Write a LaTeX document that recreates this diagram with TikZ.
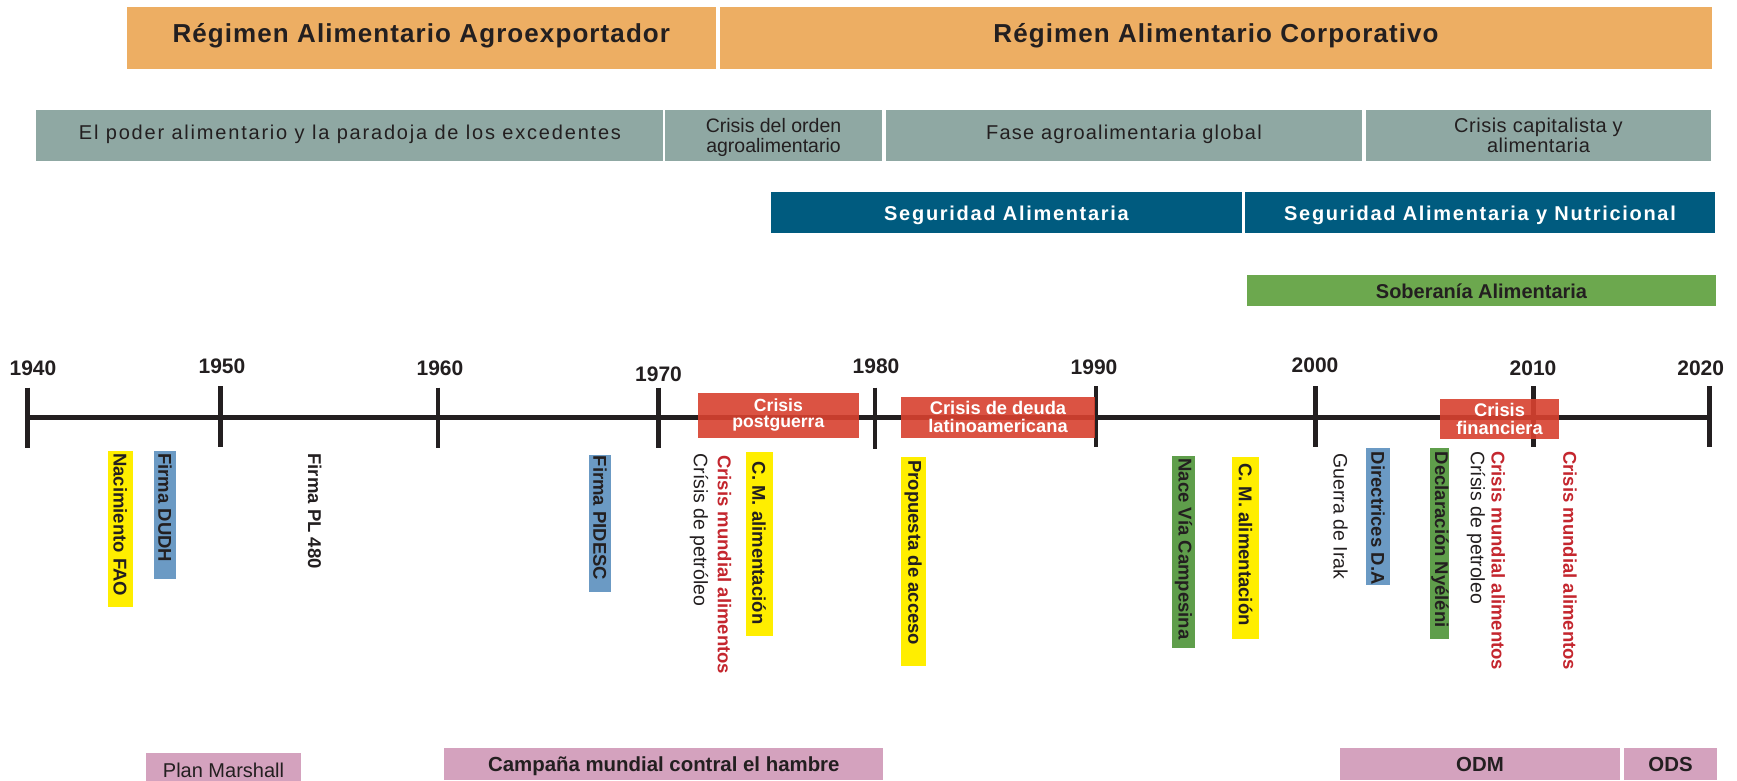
\documentclass[tikz,border=0pt]{standalone}
\usepackage{fontspec}
\setmainfont{Liberation Sans}
\newcommand\fsz[1]{\fontsize{#1}{#1}\selectfont}
\newcommand\fszl[2]{\fontsize{#1}{#2}\selectfont}
\definecolor{orangeband}{HTML}{EDAE63}
\definecolor{greyband}{HTML}{8FA8A3}
\definecolor{blueband}{HTML}{005B7F}
\definecolor{greenband}{HTML}{6CA84E}
\definecolor{yellowbox}{HTML}{FFEE00}
\definecolor{lightblue}{HTML}{6B9AC4}
\definecolor{vgreen}{HTML}{5F9E4B}
\definecolor{redbox}{HTML}{D8412F}
\definecolor{redtext}{HTML}{C4262E}
\definecolor{pinkbox}{HTML}{D4A2BE}
\definecolor{inkdark}{HTML}{231F20}
\begin{document}
\begin{tikzpicture}[x=1pt,y=-1pt,
  btext/.style={inner sep=0, anchor=base, align=center, text=inkdark},
  year/.style={inner sep=0, anchor=base, text=inkdark, font=\fsz{21}\bfseries},
  tick/.style={line width=4.5pt, inkdark},
  axisline/.style={line width=5pt, inkdark},
  crisisbox/.style={fill=redbox, fill opacity=0.9},
  crisistext/.style={inner sep=0, anchor=base, align=center, text=white},
  vlab/.style={rotate=-90, anchor=west, inner sep=0, text=inkdark, font=\fsz{18.5}\bfseries},
  vreg/.style={vlab, font=\fsz{19.5}},
  vred/.style={vlab, text=redtext},
]
\fill[white] (0,0) rectangle (1737,781);
\useasboundingbox (0,0) rectangle (1737,781);

% ---- food regimes ----
\fill[orangeband] (126.5,7.3) rectangle (716,69);
\fill[orangeband] (720,7.3) rectangle (1712,69);
\node[btext, font=\fsz{26}\bfseries\addfontfeatures{LetterSpace=4.2}] (rag) at (421.3,42.7) {Régimen Alimentario Agroexportador};
\node[btext, font=\fsz{26}\bfseries\addfontfeatures{LetterSpace=4.2}] (rac) at (1216,42.7) {Régimen Alimentario Corporativo};

% ---- phases (two-line labels are placed by their last baseline) ----
\fill[greyband] (35.5,110) rectangle (663,161);
\fill[greyband] (665,110) rectangle (882,161);
\fill[greyband] (886,110) rectangle (1362,161);
\fill[greyband] (1366,110) rectangle (1711,161);
\node[btext, font=\fsz{20}\addfontfeatures{LetterSpace=9}] (ph1) at (350,139.3) {El poder alimentario y la paradoja de los excedentes};
\node[btext, font=\fszl{19.5}{20}] (ph2) at (773.5,152.3) {Crisis del orden\\agroalimentario};
\node[btext, font=\fsz{20}\addfontfeatures{LetterSpace=6}] (ph3) at (1124,139.3) {Fase agroalimentaria global};
\node[btext, font=\fszl{20}{20}\addfontfeatures{LetterSpace=2.5}] (ph4) at (1538.5,152.3) {Crisis capitalista y\\alimentaria};

% ---- food security concepts ----
\fill[blueband] (771,192) rectangle (1242,233);
\fill[blueband] (1245,192) rectangle (1715,233);
\node[btext, text=white, font=\fsz{20}\bfseries\addfontfeatures{LetterSpace=8.5}] (sa) at (1006.5,220) {Seguridad Alimentaria};
\node[btext, text=white, font=\fsz{20}\bfseries\addfontfeatures{LetterSpace=8.5}] (san) at (1480,220) {Seguridad Alimentaria y Nutricional};
\fill[greenband] (1247,275) rectangle (1716,305.7);
\node[btext, font=\fsz{20}\bfseries] (sob) at (1481.5,298.3) {Soberanía Alimentaria};

% ---- timeline axis ----
\coordinate (axL) at (27.7,417);
\coordinate (axR) at (1709.3,417);
\draw[axisline] (axL) -- (axR);
\foreach \x/\t/\b in {27.7/387.7/448.3, 220.6/386/447.3, 438/387.7/448.3, 658.5/387.7/448.3,
  875/387.7/449, 1096/386/447, 1315.7/386/447, 1533.3/386/447, 1709.3/386/447}
  \draw[tick] (\x,\t) -- (\x,\b);

\node[year] (y1940) at (33,375) {1940};
\node[year] (y1950) at (222,373.3) {1950};
\node[year] (y1960) at (440,375) {1960};
\node[year] (y1970) at (658.5,381.7) {1970};
\node[year] (y1980) at (876,373.3) {1980};
\node[year] (y1990) at (1094,374.3) {1990};
\node[year] (y2000) at (1315,372.3) {2000};
\node[year] (y2010) at (1533,375) {2010};
\node[year] (y2020) at (1700.7,375) {2020};

% ---- crisis periods on the axis ----
\fill[crisisbox] (697.8,393.3) rectangle (859,437.7);
\fill[crisisbox] (901,396.7) rectangle (1095,437.7);
\fill[crisisbox] (1440,399) rectangle (1559,439.3);
\node[crisistext, font=\fszl{17.6}{16.2}\bfseries] (cpg) at (778.4,427.9) {Crisis\\postguerra};
\node[crisistext, font=\fszl{18.3}{18}\bfseries] (cdl) at (998,432.3) {Crisis de deuda\\latinoamericana};
\node[crisistext, font=\fszl{18.3}{17.7}\bfseries] (cfi) at (1499.5,434.4) {Crisis\\financiera};

% ---- events ----
\fill[yellowbox] (108,451) rectangle (132.6,607);
\fill[lightblue] (154,451) rectangle (176,579.3);
\fill[lightblue] (589,455) rectangle (610.7,592.3);
\fill[yellowbox] (745.7,452.3) rectangle (772.5,635.7);
\fill[yellowbox] (901,457.3) rectangle (925.5,665.7);
\fill[vgreen] (1172.4,456) rectangle (1194.6,648.3);
\fill[yellowbox] (1231.7,456.7) rectangle (1259.3,639.3);
\fill[lightblue] (1365.7,447.7) rectangle (1390,585);
\fill[vgreen] (1430.3,447.7) rectangle (1449.3,639.3);

\node[vlab] (e1) at (120.3,453) {Nacimiento FAO};
\node[vlab] (e2) at (165,453) {Firma DUDH};
\node[vlab] (e3) at (314.7,453.3) {Firma PL 480};
\node[vlab] (e4) at (600,455.5) {Firma PIDESC};
\node[vreg] (e5) at (699,453.3) {Crísis de petróleo};
\node[vred] (e6) at (724.6,455) {Crisis mundial alimentos};
\node[vlab] (e7) at (759,461.7) {C. M. alimentación};
\node[vlab] (e8) at (913.2,460) {Propuesta de acceso};
\node[vlab] (e9) at (1183.5,458.3) {Nace Vía Campesina};
\node[vlab] (e10) at (1245.5,463) {C. M. alimentación};
\node[vreg] (e11) at (1340.7,453.3) {Guerra de Irak};
\node[vlab] (e12) at (1378,451.7) {Directrices D.A};
\node[vlab] (e13) at (1440,451.7) {Declaración Nyéléni};
\node[vreg] (e14) at (1476,451) {Crísis de petroleo};
\node[vred] (e15) at (1498.3,451) {Crisis mundial alimentos};
\node[vred] (e16) at (1570,451) {Crisis mundial alimentos};

% ---- international programmes ----
\fill[pinkbox] (146,753.3) rectangle (301,781);
\fill[pinkbox] (444.3,748.3) rectangle (883.3,780);
\fill[pinkbox] (1340,748.3) rectangle (1620,780);
\fill[pinkbox] (1624.3,748.3) rectangle (1716.7,780);
\node[btext, font=\fsz{20}] (pm) at (223.5,777) {Plan Marshall};
\node[btext, font=\fsz{20.4}\bfseries] (cmh) at (663.8,771.7) {Campaña mundial contral el hambre};
\node[btext, font=\fsz{20.4}\bfseries] (odm) at (1480,771.7) {ODM};
\node[btext, font=\fsz{20.4}\bfseries] (ods) at (1670.5,771.7) {ODS};
\end{tikzpicture}
\end{document}
